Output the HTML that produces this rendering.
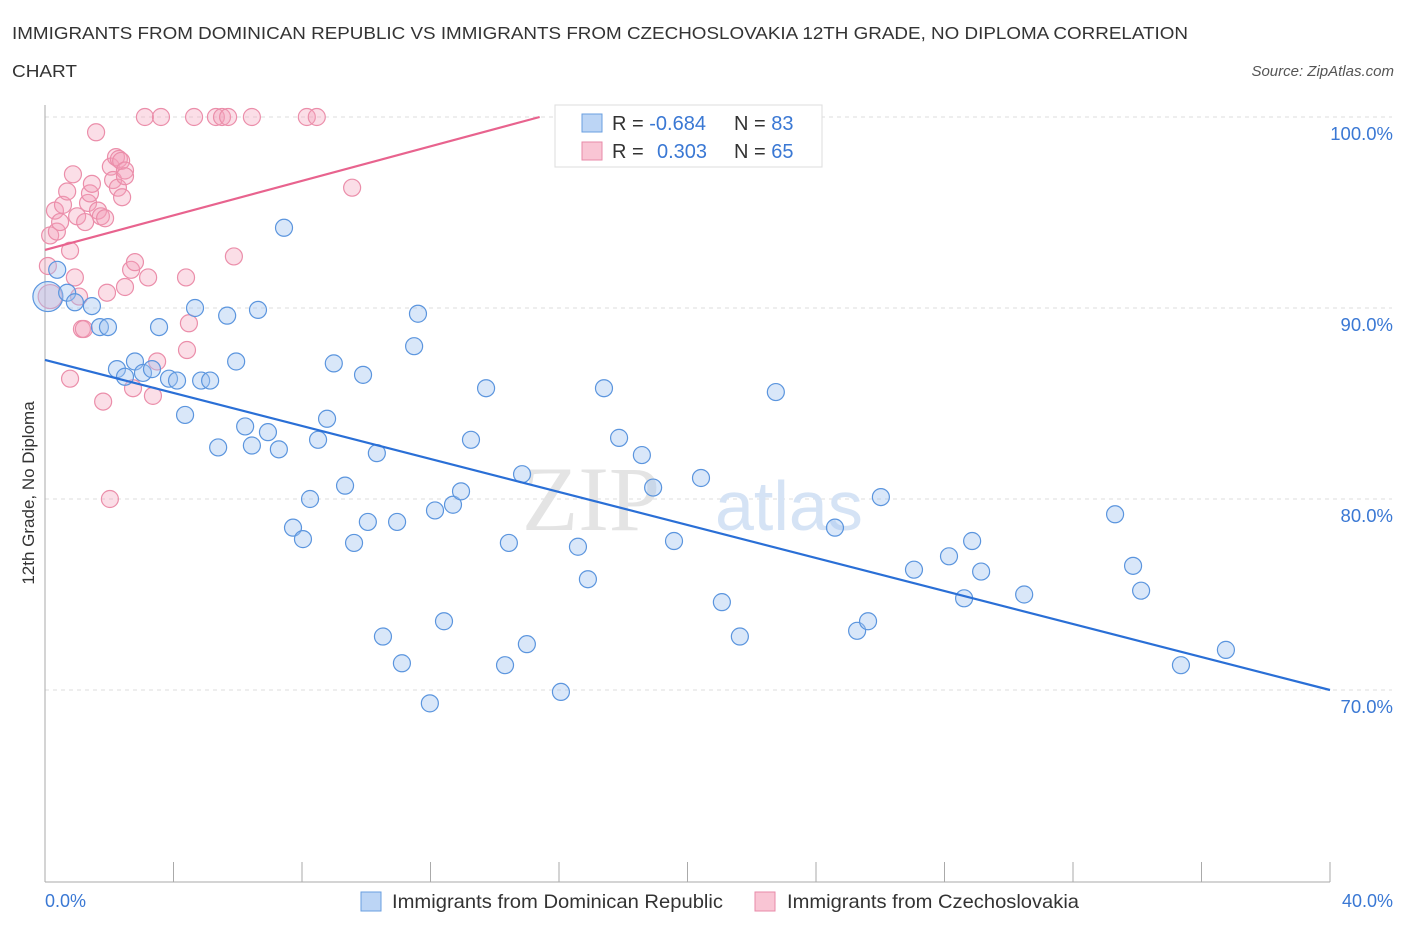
<!DOCTYPE html>
<html><head><meta charset="utf-8"><style>
body{margin:0;background:#fff;font-family:"Liberation Sans",sans-serif;}
svg{display:block}
</style></head><body>
<svg width="1406" height="930" xmlns="http://www.w3.org/2000/svg" id="chart">
<text x="12" y="39" font-size="17.5" fill="#333" textLength="1176" lengthAdjust="spacingAndGlyphs">IMMIGRANTS FROM DOMINICAN REPUBLIC VS IMMIGRANTS FROM CZECHOSLOVAKIA 12TH GRADE, NO DIPLOMA CORRELATION</text>
<text x="12" y="77" font-size="17.5" fill="#333" textLength="65" lengthAdjust="spacingAndGlyphs">CHART</text>
<text x="1394" y="76" font-size="15" fill="#555" font-style="italic" text-anchor="end">Source: ZipAtlas.com</text>
<g id="grid"></g>
<line x1="45" y1="105" x2="45" y2="882" stroke="#aaa"/>
<line x1="45" y1="882" x2="1330" y2="882" stroke="#aaa"/>
<g id="xticks"></g>
<text x="660" y="530" font-size="92" fill="#e4e4e4" font-family="Liberation Serif,serif" text-anchor="end">ZIP</text>
<text x="715" y="530" font-size="70" fill="#d5e3f5">atlas</text>
<g id="pink"></g>
<g id="blue"></g>
<g id="trends"></g>
<text x="34" y="493" font-size="17" fill="#333" text-anchor="middle" transform="rotate(-90 34 493)">12th Grade, No Diploma</text>
<text x="45" y="907" font-size="18" fill="#3a78d4">0.0%</text>
<text x="1393" y="907" font-size="18" fill="#3a78d4" text-anchor="end">40.0%</text>
<g>
<rect x="555" y="105" width="267" height="62" fill="#fff" stroke="#ddd"/>
<rect x="582" y="114" width="20" height="18" fill="#bcd5f5" stroke="#6a9fe0"/>
<rect x="582" y="142" width="20" height="18" fill="#f9c5d4" stroke="#e88aa8"/>
<text x="612" y="130" font-size="20" fill="#333">R = <tspan fill="#3a78d4">-0.684</tspan><tspan x="734">N = </tspan><tspan fill="#3a78d4">83</tspan></text>
<text x="612" y="158" font-size="20" fill="#333">R = <tspan fill="#3a78d4" x="657">0.303</tspan><tspan x="734">N = </tspan><tspan fill="#3a78d4">65</tspan></text>
</g>
<g>
<rect x="361" y="892" width="20" height="19" fill="#bcd5f5" stroke="#6a9fe0"/>
<text x="392" y="908" font-size="19.5" fill="#333" textLength="331" lengthAdjust="spacingAndGlyphs">Immigrants from Dominican Republic</text>
<rect x="755" y="892" width="20" height="19" fill="#f9c5d4" stroke="#e88aa8"/>
<text x="787" y="908" font-size="19.5" fill="#333" textLength="292" lengthAdjust="spacingAndGlyphs">Immigrants from Czechoslovakia</text>
</g>
</svg>
<script>
const yTicks=[100,90,80,70];
const yTickLabels=["100.0%","90.0%","80.0%","70.0%"];
const xTickVals=[0,4,8,12,16,20,24,28,32,36,40];
const blueX=[0.38,0.09,0.69,0.93,1.46,1.71,1.96,2.24,2.49,2.8,3.05,3.33,3.55,3.86,4.11,4.36,4.67,4.86,5.14,5.39,5.67,5.95,6.23,6.44,6.63,6.94,7.28,7.44,7.72,8.03,8.25,8.5,8.78,8.99,9.34,9.62,9.9,10.05,10.33,10.52,10.96,11.11,11.49,11.61,11.98,12.14,12.42,12.7,12.95,13.26,13.73,14.32,14.44,14.85,15.0,16.06,16.59,16.9,17.4,17.87,18.58,18.93,19.58,20.42,21.07,21.63,22.75,24.59,25.28,25.62,26.02,27.05,28.14,28.61,28.86,29.14,30.48,33.31,33.87,34.12,35.36,36.76];
const blueY=[92.0,90.6,90.8,90.3,90.1,89.0,89.0,86.8,86.4,87.2,86.6,86.8,89.0,86.3,86.2,84.4,90.0,86.2,86.2,82.7,89.6,87.2,83.8,82.8,89.9,83.5,82.6,94.2,78.5,77.9,80.0,83.1,84.2,87.1,80.7,77.7,86.5,78.8,82.4,72.8,78.8,71.4,88.0,89.7,69.3,79.4,73.6,79.7,80.4,83.1,85.8,71.3,77.7,81.3,72.4,69.9,77.5,75.8,85.8,83.2,82.3,80.6,77.8,81.1,74.6,72.8,85.6,78.5,73.1,73.6,80.1,76.3,77.0,74.8,77.8,76.2,75.0,79.2,76.5,75.2,71.3,72.1];
const pinkX=[0.16,0.09,0.16,0.31,0.37,0.47,0.56,0.69,0.78,0.87,0.93,1.0,0.78,1.06,1.15,1.21,1.25,1.34,1.4,1.46,1.59,1.65,1.74,1.81,1.87,1.93,2.02,2.05,2.12,2.21,2.27,2.3,2.37,2.4,2.49,2.49,2.49,2.68,2.74,2.8,3.21,3.36,3.49,3.11,3.61,4.39,4.48,4.42,4.64,5.32,5.51,5.7,5.88,6.44,8.15,8.46,9.56,18.18];
const pinkY=[90.6,92.2,93.8,95.1,94.0,94.5,95.4,96.1,93.0,97.0,91.6,94.8,86.3,90.6,88.9,88.9,94.5,95.5,96.0,96.5,99.2,95.1,94.8,85.1,94.7,90.8,80.0,97.4,96.7,97.9,96.3,97.8,97.7,95.8,97.2,96.9,91.1,92.0,85.8,92.4,91.6,85.4,87.2,100,100,91.6,89.2,87.8,100,100,100,100,92.7,100,100,100,96.3,100];
const blueFit=[87.28,70.0];
const pinkFit=[93.04,0.452];
const NS="http://www.w3.org/2000/svg";
const xs=v=>45+v*32.125;
const ys=v=>117+(100-v)*19.1;
function mk(t,a,p){const e=document.createElementNS(NS,t);for(const k in a)e.setAttribute(k,a[k]);p.appendChild(e);return e;}
const grid=document.getElementById('grid');
yTicks.forEach((v,i)=>{
 const l=mk('line',{x1:45,x2:1392,y1:ys(v),y2:ys(v),stroke:'#ddd','stroke-dasharray':'4,4'},grid);
 
 
 const t=mk('text',{x:1393,y:ys(v)+23,'font-size':18.5,fill:'#3a78d4','text-anchor':'end'},grid);
 t.textContent=yTickLabels[i];
 
 
});
const xt=document.getElementById('xticks');
xTickVals.forEach(v=>{
 const l=mk('line',{x1:xs(v),x2:xs(v),y1:862,y2:882,stroke:'#aaa'},xt);
 
 
});
const pg=document.getElementById('pink');
pinkX.forEach((x,i)=>{
 const c=mk('circle',{cx:xs(x),cy:ys(pinkY[i]),r:(i==0?12:8.5),fill:'rgba(244,160,185,0.35)',stroke:'#eb8eaa','stroke-width':1.2},pg);
 
 
});
const bg=document.getElementById('blue');
blueX.forEach((x,i)=>{
 const c=mk('circle',{cx:xs(x),cy:ys(blueY[i]),r:(i==1?15:8.5),fill:'rgba(160,196,240,0.4)',stroke:'#5b95de','stroke-width':1.2},bg);
 
 
});
const tg=document.getElementById('trends');
const bl=mk('line',{x1:xs(0),y1:ys(blueFit[0]),x2:xs(40),y2:ys(blueFit[1]),stroke:'#2a6fd6','stroke-width':2.2},tg);


const xe=(100-pinkFit[0])/pinkFit[1];
const pl=mk('line',{x1:xs(0),y1:ys(pinkFit[0]),x2:xs(xe),y2:ys(100),stroke:'#e8638e','stroke-width':2.2},tg);


</script>
</body></html>
